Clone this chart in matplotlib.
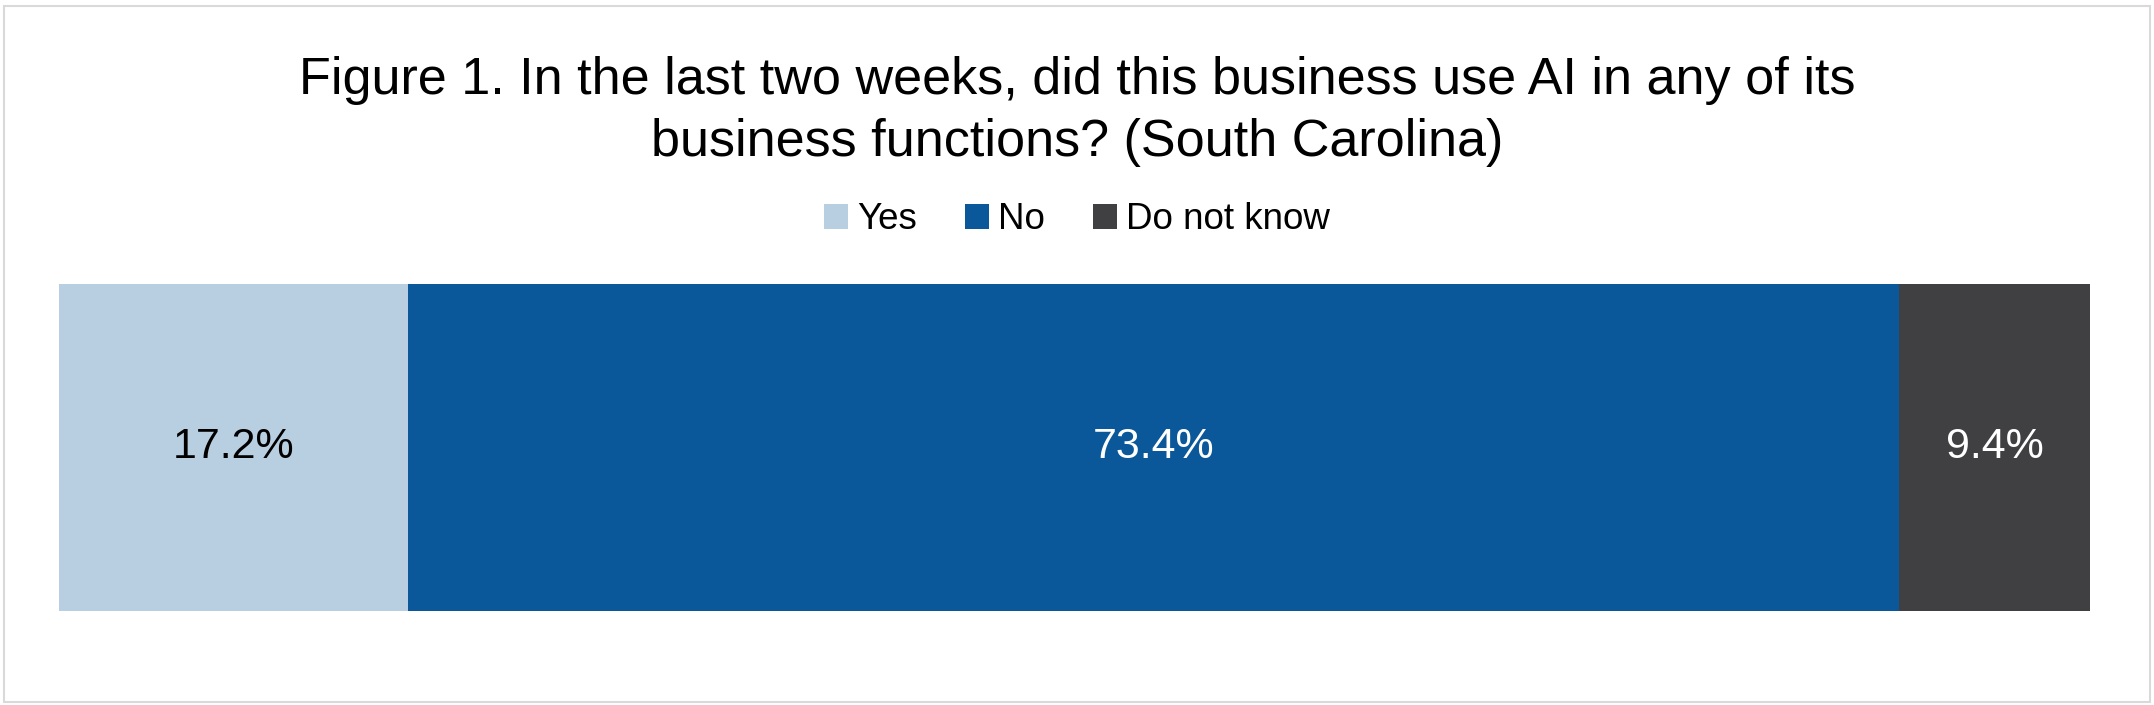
import matplotlib
matplotlib.use("Agg")
import matplotlib.pyplot as plt
from matplotlib.patches import Rectangle

categories = ["Yes", "No", "Do not know"]
values = [17.2, 73.4, 9.4]
colors = ["#B8CFE2", "#0A5799", "#404043"]
label_colors = ["black", "white", "white"]
title = "Figure 1. In the last two weeks, did this business use AI in any of its\nbusiness functions? (South Carolina)"

plt.rcParams['font.family'] = ['Liberation Sans', 'DejaVu Sans']

fig = plt.figure(figsize=(21.54, 7.05), dpi=100)
fig.patch.set_facecolor("white")
fig.patches.append(Rectangle((0.002, 0.004), 0.996, 0.988, transform=fig.transFigure,
                             fill=False, edgecolor="#D9D9D9", linewidth=1.5))

ax = fig.add_axes([0.0274, 0.1333, 0.9429, 0.4639])
left = 0
for cat, v, c, lc in zip(categories, values, colors, label_colors):
    ax.barh([0], [v], left=left, color=c, height=1.0, label=cat)
    ax.text(left + v / 2, 0, f"{v:.1f}%", ha="center", va="center", color=lc, fontsize=31)
    left += v
ax.set_xlim(0, sum(values))
ax.set_ylim(-0.5, 0.5)
ax.axis("off")

fig.text(0.5, 0.842, title, ha="center", va="center", fontsize=37.5, linespacing=1.36)
fig.legend(loc="center", bbox_to_anchor=(0.5, 0.688), ncol=3, frameon=False, fontsize=26.5,
           handlelength=0.65, handleheight=0.65, handletextpad=0.25, columnspacing=1.3)

fig.savefig("out.png", dpi=100, facecolor="white")
